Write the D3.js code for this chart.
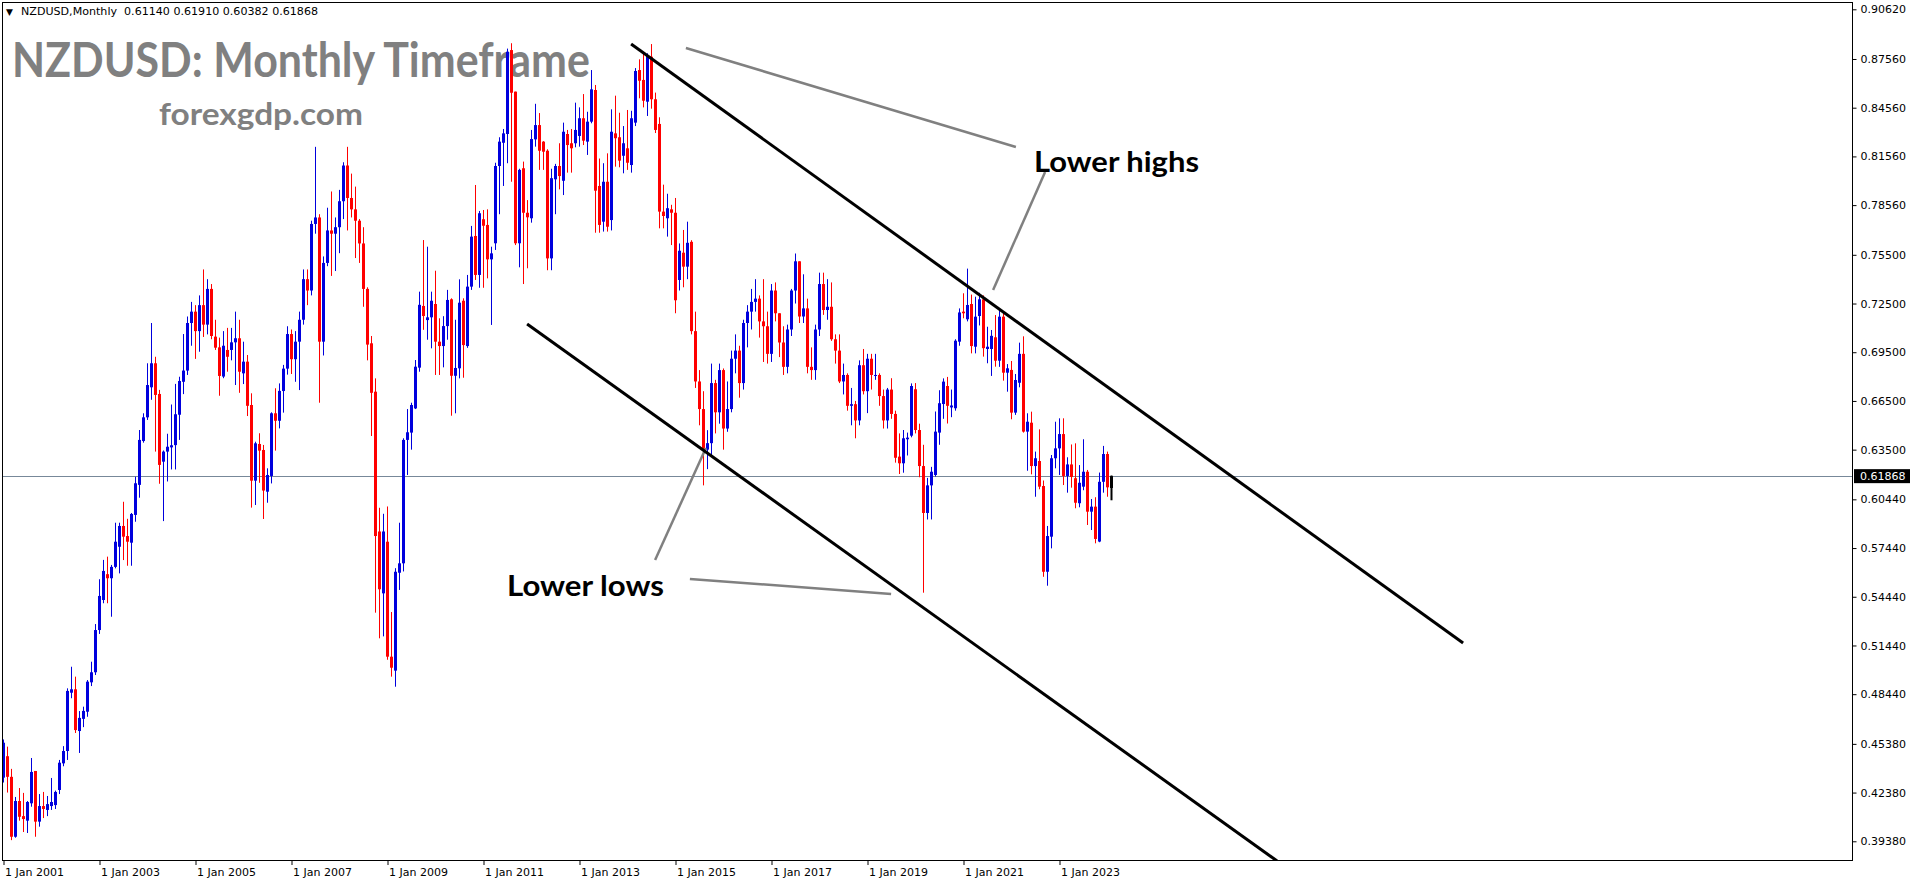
<!DOCTYPE html>
<html>
<head>
<meta charset="utf-8">
<script src="https://cdn.jsdelivr.net/npm/d3@7"></script>
<style>
  body { margin: 0; background: #ffffff; }
  #wrapper { width: 1916px; height: 884px; }
</style>
</head>
<body>
<div id="wrapper"></div>
<script>

// monthly NZDUSD candles, Jan 2001 .. Feb 2024 (one line per year)
const opens = [
  .4330,.4462,.4335,.3966,.4186,.4093,.4065,.4172,.4371,.4059,.4155,.4131,
  .4155,.4161,.4254,.4418,.4494,.4853,.4874,.4617,.4692,.4736,.4917,.4979,
  .5239,.5424,.5583,.5558,.5628,.5752,.5880,.5818,.5777,.5948,.6133,.6403,
  .6549,.6734,.6882,.6693,.6276,.6338,.6364,.6378,.6565,.6768,.6837,.7130,
  .7200,.7080,.7240,.7120,.7340,.7046,.6980,.6800,.6964,.6964,.7011,.7036,
  .6820,.6892,.6625,.6159,.6385,.6348,.6091,.6188,.6574,.6528,.6711,.6849,
  .7062,.6907,.7015,.7150,.7400,.7330,.7740,.7780,.7015,.7500,.7700,.7680,
  .7720,.7880,.8100,.7900,.7830,.7760,.7620,.7340,.7005,.6707,.5846,.5465,
  .5783,.5075,.4989,.5592,.5650,.6410,.6455,.6604,.6855,.7235,.7148,.7165,
  .7247,.7015,.6988,.7111,.7276,.6805,.6851,.7267,.6988,.7354,.7666,.7426,
  .7769,.7734,.7522,.7621,.8097,.8240,.8294,.8811,.8555,.7621,.8083,.7809,
  .7775,.8261,.8349,.8247,.8191,.7528,.8015,.8097,.8006,.8294,.8237,.8237,
  .8282,.8391,.8247,.8370,.8565,.7974,.7754,.8000,.7764,.8298,.8274,.8160,
  .8206,.8103,.8364,.8688,.8627,.8493,.8770,.8508,.8356,.7816,.7775,.7830,
  .7809,.7395,.7563,.7477,.7630,.7080,.6770,.6600,.6350,.6390,.6760,.6580,
  .6840,.6480,.6600,.6910,.6960,.6760,.7130,.7200,.7260,.7280,.7140,.7110,
  .6940,.7330,.7190,.7010,.6860,.7090,.7330,.7510,.7170,.7220,.6860,.6840,
  .7090,.7370,.7210,.7230,.7030,.6960,.6770,.6810,.6620,.6630,.6530,.6870,
  .6710,.6910,.6810,.6810,.6680,.6530,.6720,.6570,.6307,.6266,.6414,.6436,
  .6722,.6471,.6249,.5960,.6130,.6194,.6455,.6631,.6742,.6610,.6605,.7015,
  .7200,.7153,.7247,.6984,.7173,.7276,.6970,.6970,.7042,.6898,.7169,.6824,
  .6841,.6578,.6762,.6940,.6461,.6516,.6249,.6280,.6126,.5598,.5814,.6297,
  .6358,.6446,.6188,.6259,.6174,.6020,.6122,.6214,.5968,.5999,.5784,.6152,
  .6323,.61140
]

const highs = [
  .4565,.4521,.4384,.4211,.4266,.4236,.4186,.4451,.4371,.4229,.4242,.4217,
  .4328,.4250,.4439,.4524,.4880,.5013,.4952,.4740,.4767,.4931,.5044,.5276,
  .5552,.5671,.5691,.5640,.5900,.5900,.6029,.5924,.5960,.6183,.6471,.6574,
  .6882,.7130,.6922,.6718,.6345,.6448,.6628,.6755,.6799,.7062,.7170,.7260,
  .7240,.7300,.7460,.7400,.7370,.7150,.7040,.7080,.7100,.7100,.7200,.7150,
  .7015,.6933,.6697,.6399,.6451,.6379,.6235,.6580,.6728,.6758,.6872,.7110,
  .7090,.7080,.7200,.7460,.7460,.7760,.8215,.7800,.7540,.7840,.7940,.7780,
  .7950,.8120,.8215,.8050,.7970,.7770,.7720,.7350,.7050,.6789,.5992,.5955,
  .6000,.5350,.5620,.5900,.6420,.6600,.6639,.6902,.7323,.7641,.7600,.7323,
  .7452,.7159,.7172,.7334,.7282,.7150,.7399,.7282,.7426,.7728,.7980,.7820,
  .7826,.7830,.7600,.8117,.8274,.8325,.8820,.8853,.8555,.8080,.8124,.7887,
  .8319,.8480,.8423,.8250,.8200,.8080,.8110,.8237,.8364,.8319,.8325,.8487,
  .8458,.8540,.8431,.8688,.8596,.8143,.8114,.8175,.8446,.8530,.8425,.8343,
  .8442,.8437,.8700,.8754,.8795,.8791,.8848,.8549,.8397,.7982,.7926,.7858,
  .7900,.7620,.7703,.7754,.7640,.7200,.6840,.6710,.6470,.6880,.6780,.6880,
  .6850,.6770,.6960,.7060,.6990,.7150,.7240,.7340,.7400,.7300,.7400,.7200,
  .7370,.7380,.7190,.7110,.7120,.7340,.7558,.7510,.7430,.7280,.6980,.7120,
  .7440,.7440,.7400,.7380,.7060,.7060,.6880,.6820,.6730,.6650,.6900,.6970,
  .6940,.6940,.6940,.6820,.6720,.6730,.6790,.6590,.6450,.6471,.6455,.6758,
  .6760,.6510,.6380,.6176,.6244,.6585,.6716,.6789,.6798,.6720,.7030,.7220,
  .7313,.7465,.7305,.7292,.7316,.7300,.7107,.7087,.7179,.7219,.7194,.6877,
  .6896,.6816,.7009,.7048,.6574,.6584,.6338,.6475,.6160,.5880,.6317,.6522,
  .6543,.6543,.6303,.6382,.6389,.6255,.6414,.6225,.6046,.6057,.6209,.6373,
  .6338,.61910
]

const lows = [
  .4300,.4238,.3945,.3960,.4065,.3995,.3989,.4151,.3966,.4028,.4081,.4093,
  .4131,.4137,.4229,.4400,.4439,.4819,.4605,.4482,.4641,.4705,.4894,.4962,
  .5215,.5404,.5404,.5321,.5619,.5588,.5670,.5635,.5635,.5906,.6054,.6393,
  .6533,.6657,.6338,.6140,.5910,.6154,.6228,.6228,.6410,.6692,.6810,.6990,
  .6909,.6953,.7044,.7060,.7030,.6964,.6682,.6790,.6830,.6900,.6748,.6700,
  .6754,.6557,.5993,.6009,.6146,.5923,.6023,.6142,.6344,.6481,.6578,.6812,
  .6816,.6768,.6717,.7120,.7240,.7300,.7680,.6639,.6930,.7480,.7420,.7450,
  .7560,.7770,.7700,.7780,.7530,.7500,.7230,.6900,.6434,.5346,.5188,.5200,
  .5056,.4952,.4890,.5486,.5600,.6194,.6350,.6600,.6830,.7088,.7027,.6974,
  .6810,.6810,.6857,.7027,.6559,.6574,.6789,.6793,.6977,.7334,.7395,.7347,
  .7347,.7405,.7118,.7580,.7800,.7974,.8114,.8000,.7610,.7473,.7370,.7467,
  .7748,.8216,.8073,.8073,.7455,.7455,.7800,.7953,.7918,.8056,.8056,.8212,
  .8216,.8226,.8165,.8360,.7686,.7686,.7693,.7693,.7700,.8093,.8089,.8052,
  .8073,.8056,.8343,.8514,.8458,.8405,.8450,.8300,.7713,.7713,.7662,.7610,
  .7190,.7330,.7350,.7400,.7060,.6730,.6500,.6130,.6230,.6310,.6450,.6510,
  .6350,.6460,.6580,.6820,.6670,.6720,.6980,.7090,.7200,.7040,.6890,.6880,
  .6890,.7140,.6920,.6810,.6820,.7050,.7250,.7130,.7130,.6820,.6780,.6780,
  .7050,.7180,.7150,.7020,.6880,.6760,.6690,.6590,.6500,.6420,.6500,.6690,
  .6575,.6720,.6780,.6620,.6480,.6480,.6540,.6270,.6200,.6208,.6314,.6426,
  .6450,.6180,.5469,.5920,.5920,.6184,.6380,.6540,.6511,.6550,.6590,.6990,
  .7159,.7140,.6943,.6943,.7115,.6923,.6882,.6804,.6861,.6860,.6775,.6707,
  .6537,.6564,.6734,.6455,.6220,.6198,.6060,.6106,.5567,.5512,.5742,.6235,
  .6194,.6132,.6085,.6116,.5989,.5995,.6100,.5886,.5855,.5773,.5780,.6085,
  .6060,.60382
]

const closes = [
  .4545,.4335,.3966,.4186,.4089,.4075,.4180,.4365,.4059,.4155,.4137,.4167,
  .4180,.4242,.4422,.4494,.4864,.4874,.4623,.4698,.4741,.4921,.4979,.5239,
  .5449,.5603,.5558,.5628,.5783,.5880,.5814,.5783,.5954,.6143,.6410,.6549,
  .6748,.6882,.6687,.6256,.6338,.6368,.6377,.6568,.6773,.6837,.7130,.7200,
  .7080,.7240,.7120,.7340,.7050,.6978,.6804,.6990,.6922,.7011,.7036,.6830,
  .6892,.6620,.6159,.6389,.6344,.6098,.6194,.6574,.6528,.6712,.6849,.7062,
  .6907,.7015,.7150,.7400,.7330,.7740,.7780,.7015,.7500,.7700,.7680,.7720,
  .7880,.8100,.7900,.7830,.7760,.7620,.7340,.6997,.6700,.5818,.5490,.5846,
  .5075,.5007,.5598,.5650,.6410,.6457,.6625,.6861,.7242,.7173,.7165,.7267,
  .7015,.6988,.7111,.7272,.6805,.6853,.7255,.6994,.7354,.7662,.7426,.7806,
  .7729,.7522,.7559,.8097,.8247,.8298,.8801,.8548,.7621,.8073,.7809,.7781,
  .8263,.8349,.8191,.8185,.7528,.8022,.8097,.8035,.8308,.8226,.8206,.8319,
  .8391,.8253,.8370,.8569,.7945,.7734,.8000,.7723,.8308,.8268,.8130,.8237,
  .8117,.8391,.8682,.8622,.8499,.8775,.8508,.8319,.7816,.7789,.7837,.7809,
  .7270,.7575,.7477,.7624,.7080,.6770,.6600,.6350,.6390,.6760,.6580,.6840,
  .6480,.6600,.6910,.6960,.6760,.7130,.7200,.7260,.7280,.7140,.7110,.6940,
  .7330,.7190,.7010,.6860,.7090,.7330,.7510,.7170,.7220,.6860,.6840,.7090,
  .7370,.7210,.7230,.7030,.6960,.6770,.6810,.6620,.6630,.6530,.6870,.6710,
  .6910,.6810,.6810,.6680,.6530,.6720,.6570,.6300,.6266,.6420,.6424,.6742,
  .6471,.6249,.5960,.6130,.6214,.6461,.6636,.6769,.6620,.6622,.7021,.7195,
  .7190,.7241,.6988,.7169,.7276,.6975,.6984,.7051,.6898,.7169,.6824,.6851,
  .6578,.6779,.6940,.6461,.6522,.6249,.6297,.6122,.5598,.5818,.6297,.6358,
  .6446,.6188,.6259,.6182,.6023,.6146,.6214,.5968,.5999,.5800,.6152,.6323,
  .6118,.61868
]

const startDate = new Date(2001, 0, 1)
const dateTickYears = [2001, 2003, 2005, 2007, 2009, 2011, 2013, 2015, 2017, 2019, 2021, 2023]
const priceTicks = [0.90620, 0.87560, 0.84560, 0.81560, 0.78560, 0.75500, 0.72500, 0.69500,
  0.66500, 0.63500, 0.60440, 0.57440, 0.54440, 0.51440, 0.48440, 0.45380, 0.42380, 0.39380]
const lastPrice = 0.61868
const headerText = "NZDUSD,Monthly  0.61140 0.61910 0.60382 0.61868"

// channel lines and pointers, as [bar index, price]
const channelLines = [
  [[156.9, 0.88483], [364.9, 0.51592]],
  [[130.9, 0.71238], [318.4, 0.38166]],
]
const pointerLines = [
  [[170.6, 0.88237], [253.1, 0.82140]],
  [[260.4, 0.80600], [247.4, 0.73333]],
  [[162.9, 0.56705], [175.6, 0.63603]],
  [[171.6, 0.55535], [221.9, 0.54611]],
]

async function drawChart() {

    let dimensions = {
        width: 1916,
        height: 884,
        plot: { left: 2, top: 2, right: 1852, bottom: 861 },
        barStep: 4,
    }

    const wrapper = d3.select("#wrapper")
        .append("svg")
        .attr("width", dimensions.width)
        .attr("height", dimensions.height)
        .style("display", "block")

    const dates = d3.timeMonth.range(startDate, d3.timeMonth.offset(startDate, closes.length))
    const candles = dates.map((d, i) => ({
        i: i, date: d,
        open: opens[i], high: highs[i], low: lows[i], close: closes[i],
    }))

    const xScale = d3.scaleLinear()
        .domain([0, candles.length - 1])
        .range([3.5, 3.5 + dimensions.barStep * (candles.length - 1)])

    const yScale = d3.scaleLinear()
        .domain([0.38166, 0.91070])
        .range([dimensions.plot.bottom, dimensions.plot.top])

    wrapper.append("defs").append("clipPath")
        .attr("id", "plotClip")
        .append("rect")
        .attr("x", dimensions.plot.left)
        .attr("y", dimensions.plot.top)
        .attr("width", dimensions.plot.right - dimensions.plot.left)
        .attr("height", dimensions.plot.bottom - dimensions.plot.top)

    // watermark texts (behind the candles)
    wrapper.append("text")
        .attr("x", 12)
        .attr("y", 77)
        .attr("textLength", 578)
        .attr("lengthAdjust", "spacingAndGlyphs")
        .style("font-family", "Lato, 'Open Sans', sans-serif")
        .style("font-weight", 700)
        .style("font-size", "47px")
        .attr("fill", "#808080")
        .text("NZDUSD: Monthly Timeframe")

    wrapper.append("text")
        .attr("x", 159)
        .attr("y", 125)
        .attr("textLength", 204)
        .attr("lengthAdjust", "spacingAndGlyphs")
        .style("font-family", "Lato, 'Open Sans', sans-serif")
        .style("font-weight", 700)
        .style("font-size", "30px")
        .attr("fill", "#808080")
        .text("forexgdp.com")

    const plot = wrapper.append("g").attr("clip-path", "url(#plotClip)")

    // current price line
    plot.append("line")
        .attr("x1", dimensions.plot.left)
        .attr("x2", dimensions.plot.right)
        .attr("y1", Math.round(yScale(lastPrice)) + 0.5)
        .attr("y2", Math.round(yScale(lastPrice)) + 0.5)
        .attr("stroke", "#778899")
        .attr("stroke-width", 1)

    const colorOf = d => {
        if (d.i == candles.length - 1) return "#000000"
        return d.close >= d.open ? "#0000dd" : "#ff0000"
    }

    //draw wicks
    plot.append("g")
        .selectAll("line")
        .data(candles)
        .enter().append("line")
        .attr("x1", d => xScale(d.i))
        .attr("x2", d => xScale(d.i))
        .attr("y1", d => yScale(d.high))
        .attr("y2", d => yScale(d.low))
        .attr("stroke", colorOf)
        .attr("stroke-width", d => d.i == candles.length - 1 ? 2 : 1)

    //draw bodies
    plot.append("g")
        .selectAll("rect")
        .data(candles)
        .enter().append("rect")
        .attr("x", d => xScale(d.i) - 1.5)
        .attr("width", 3)
        .attr("y", d => yScale(Math.max(d.open, d.close)))
        .attr("height", d => Math.max(1, Math.abs(yScale(d.open) - yScale(d.close))))
        .attr("fill", colorOf)

    const lineGen = d3.line()
        .x(p => xScale(p[0]))
        .y(p => yScale(p[1]))

    plot.append("g")
        .selectAll("path")
        .data(pointerLines)
        .enter().append("path")
        .attr("d", lineGen)
        .attr("fill", "none")
        .attr("stroke", "#808080")
        .attr("stroke-width", 2.5)

    plot.append("g")
        .selectAll("path")
        .data(channelLines)
        .enter().append("path")
        .attr("d", lineGen)
        .attr("fill", "none")
        .attr("stroke", "#000000")
        .attr("stroke-width", 3)

    // annotations
    const notes = [
        { text: "Lower highs", x: 1034, y: 172, len: 165 },
        { text: "Lower lows", x: 507, y: 596, len: 157 },
    ]
    wrapper.append("g")
        .selectAll("text")
        .data(notes)
        .enter().append("text")
        .attr("x", d => d.x)
        .attr("y", d => d.y)
        .attr("textLength", d => d.len)
        .attr("lengthAdjust", "spacingAndGlyphs")
        .style("font-family", "Lato, 'Open Sans', sans-serif")
        .style("font-weight", 700)
        .style("font-size", "28px")
        .attr("fill", "#000000")
        .text(d => d.text)

    // frame
    wrapper.append("rect")
        .attr("x", dimensions.plot.left + 0.5)
        .attr("y", dimensions.plot.top + 0.5)
        .attr("width", dimensions.plot.right - dimensions.plot.left)
        .attr("height", dimensions.plot.bottom - dimensions.plot.top - 1)
        .attr("fill", "none")
        .attr("stroke", "#000000")
        .attr("stroke-width", 1)

    //price axis
    const yAxis = d3.axisRight(yScale)
        .tickValues(priceTicks)
        .tickFormat(d3.format(".5f"))
        .tickSize(4)
        .tickPadding(4)

    const yAxisG = wrapper.append("g")
        .attr("transform", `translate(${dimensions.plot.right + 0.5},0)`)
        .call(yAxis)
    yAxisG.select(".domain").remove()
    yAxisG.selectAll("text")
        .style("font-family", "'DejaVu Sans', sans-serif")
        .style("font-size", "11px")
        .attr("fill", "#000000")
    yAxisG.selectAll("line").attr("stroke", "#000000")

    // last price tag
    const tagY = yScale(lastPrice)
    wrapper.append("rect")
        .attr("x", dimensions.plot.right + 2)
        .attr("y", tagY - 7)
        .attr("width", 56)
        .attr("height", 14)
        .attr("fill", "#000000")
    wrapper.append("text")
        .attr("x", dimensions.plot.right + 8)
        .attr("y", tagY)
        .attr("dy", "0.35em")
        .style("font-family", "'DejaVu Sans', sans-serif")
        .style("font-size", "11px")
        .attr("fill", "#ffffff")
        .text(d3.format(".5f")(lastPrice))

    //date axis
    const tickIdx = dateTickYears.map(y => (y - 2001) * 12)
    const xAxis = d3.axisBottom(xScale)
        .tickValues(tickIdx)
        .tickFormat((d, i) => d3.timeFormat("1 Jan %Y")(dates[d]))
        .tickSize(4)
        .tickPadding(3)

    const xAxisG = wrapper.append("g")
        .attr("transform", `translate(0,${dimensions.plot.bottom})`)
        .call(xAxis)
    xAxisG.select(".domain").remove()
    xAxisG.selectAll("text")
        .attr("text-anchor", "start")
        .attr("x", 1)
        .style("font-family", "'DejaVu Sans', sans-serif")
        .style("font-size", "11px")
        .attr("fill", "#000000")
    xAxisG.selectAll("line").attr("stroke", "#000000")

    // header
    const header = wrapper.append("text")
        .attr("x", 6)
        .attr("y", 11)
        .attr("dy", "0.35em")
        .style("font-family", "'DejaVu Sans', sans-serif")
        .style("font-size", "11px")
        .style("white-space", "pre")
        .attr("fill", "#000000")
    header.append("tspan").style("font-size", "9px").text("\u25BC ")
    header.append("tspan").attr("x", 21).attr("textLength", 297).attr("lengthAdjust", "spacingAndGlyphs").text(headerText)
}
drawChart()

</script>
</body>
</html>
